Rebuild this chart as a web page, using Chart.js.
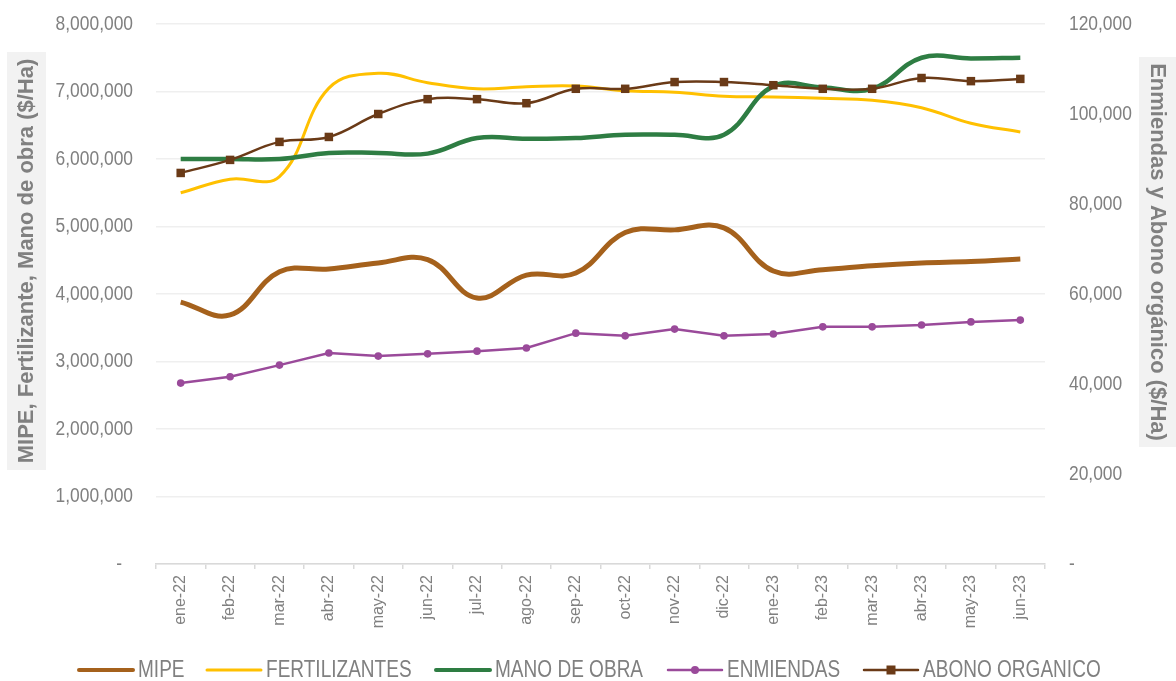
<!DOCTYPE html>
<html>
<head>
<meta charset="utf-8">
<script src="https://cdn.jsdelivr.net/npm/chart.js@4"></script>
<style>
  html, body { margin: 0; padding: 0; background: #fff; }
  canvas { display: block; }
</style>
</head>
<body>
<canvas id="costChart" width="1176" height="681"></canvas>
<script>
const months = ['ene-22','feb-22','mar-22','abr-22','may-22','jun-22','jul-22','ago-22','sep-22',
                'oct-22','nov-22','dic-22','ene-23','feb-23','mar-23','abr-23','may-23','jun-23'];

// left axis ($/Ha)
const mipe = [3880000, 3690000, 4330000, 4370000, 4460000, 4510000, 3940000, 4280000, 4310000,
              4910000, 4950000, 4980000, 4340000, 4360000, 4420000, 4460000, 4480000, 4520000];
const fertilizantes = [5500000, 5700000, 5740000, 7050000, 7270000, 7130000, 7040000, 7070000, 7080000,
                       7010000, 6990000, 6930000, 6920000, 6900000, 6870000, 6760000, 6530000, 6400000];
const manoDeObra = [6000000, 6000000, 6000000, 6090000, 6090000, 6080000, 6310000, 6300000, 6310000,
                    6360000, 6360000, 6360000, 7080000, 7060000, 7040000, 7500000, 7490000, 7500000];

// right axis ($/Ha)
const enmiendas = [40200, 41600, 44200, 46900, 46200, 46700, 47300, 48000, 51300,
                   50700, 52200, 50700, 51100, 52700, 52700, 53100, 53800, 54200];
const abonoOrganico = [86900, 89800, 93800, 94900, 100000, 103300, 103300, 102400, 105600,
                       105600, 107100, 107100, 106400, 105600, 105600, 108000, 107300, 107800];

const leftTicks = [0, 1000000, 2000000, 3000000, 4000000, 5000000, 6000000, 7000000, 8000000];
const rightTicks = [0, 20000, 40000, 60000, 80000, 100000, 120000];

const SANS = '"Liberation Sans", Arial, sans-serif';
const GREY = '#808080';

function fmt(v) {
    return v === 0 ? '-' : v.toLocaleString('en-US');
}

// condensed text: draw with a horizontal squeeze
function narrowText(ctx, text, x, y, sx, align) {
    ctx.save();
    ctx.translate(x, y);
    ctx.scale(sx, 1);
    ctx.textAlign = align;
    ctx.fillText(text, 0, 0);
    ctx.restore();
}

// value labels of both y axes, in a condensed face
const yTickLabels = {
    id: 'yTickLabels',
    afterDraw(chart) {
        const ctx = chart.ctx;
        const left = chart.scales.y, right = chart.scales.y1;
        ctx.save();
        ctx.fillStyle = GREY;
        ctx.font = '20px ' + SANS;
        ctx.textBaseline = 'middle';
        leftTicks.forEach(v => {
            const x = v === 0 ? left.right - 34 : left.right - 23;
            narrowText(ctx, fmt(v), x, left.getPixelForValue(v), 0.87, 'right');
        });
        rightTicks.forEach(v => {
            narrowText(ctx, fmt(v), right.left + 24, right.getPixelForValue(v), 0.87, 'left');
        });
        ctx.restore();
    }
};

// grey boxes with the rotated axis titles
const axisTitles = {
    id: 'axisTitles',
    afterDraw(chart) {
        const ctx = chart.ctx;
        ctx.save();
        ctx.fillStyle = '#F2F2F2';
        ctx.fillRect(7, 52, 39, 418);
        ctx.fillRect(1139, 57, 37, 390);
        ctx.fillStyle = GREY;
        ctx.font = 'bold 22px ' + SANS;
        ctx.textAlign = 'center';
        ctx.textBaseline = 'middle';
        ctx.translate(27, 261);
        ctx.rotate(-Math.PI / 2);
        ctx.fillText('MIPE, Fertilizante, Mano de obra ($/Ha)', 0, 0);
        ctx.restore();

        ctx.save();
        ctx.fillStyle = GREY;
        ctx.font = 'bold 22px ' + SANS;
        ctx.textAlign = 'center';
        ctx.textBaseline = 'middle';
        ctx.translate(1157, 252);
        ctx.rotate(Math.PI / 2);
        ctx.fillText('Enmiendas y Abono orgánico ($/Ha)', 0, 0);
        ctx.restore();
    }
};

// legend under the axis: line sample, optional marker, label
const legendStarts = [79, 207, 436, 668, 864];
const bottomLegend = {
    id: 'bottomLegend',
    afterDraw(chart) {
        const ctx = chart.ctx;
        const y = 670;
        const lineLen = 54;
        ctx.save();
        ctx.font = '23.5px ' + SANS;
        ctx.textBaseline = 'middle';
        chart.data.datasets.forEach((ds, i) => {
            const x = legendStarts[i];
            ctx.strokeStyle = ds.borderColor;
            ctx.lineWidth = Math.min(ds.borderWidth, 4);
            ctx.lineCap = 'round';
            ctx.beginPath();
            ctx.moveTo(x, y);
            ctx.lineTo(x + lineLen, y);
            ctx.stroke();
            ctx.fillStyle = ds.borderColor;
            if (ds.pointRadius > 0 && ds.pointStyle === 'circle') {
                ctx.beginPath();
                ctx.arc(x + lineLen / 2, y, 4, 0, Math.PI * 2);
                ctx.fill();
            } else if (ds.pointRadius > 0 && ds.pointStyle === 'rect') {
                ctx.fillRect(x + lineLen / 2 - 4.5, y - 4.5, 9, 9);
            }
            ctx.fillStyle = GREY;
            narrowText(ctx, ds.label, x + lineLen + 5, y + 1, 0.81, 'left');
        });
        ctx.restore();
    }
};

new Chart(document.getElementById('costChart').getContext('2d'), {
    type: 'line',
    data: {
        labels: months,
        datasets: [
            { label: 'MIPE', data: mipe, yAxisID: 'y', borderColor: '#A5611C', borderWidth: 5,
              tension: 0.4, pointRadius: 0, order: 5 },
            { label: 'FERTILIZANTES', data: fertilizantes, yAxisID: 'y', borderColor: '#FFC000', borderWidth: 3,
              tension: 0.4, pointRadius: 0, order: 4 },
            { label: 'MANO DE OBRA', data: manoDeObra, yAxisID: 'y', borderColor: '#2E7D43', borderWidth: 4.5,
              tension: 0.4, pointRadius: 0, order: 3 },
            { label: 'ENMIENDAS', data: enmiendas, yAxisID: 'y1', borderColor: '#9A4A9A', borderWidth: 2.5,
              tension: 0, pointStyle: 'circle', pointRadius: 3.8, pointBackgroundColor: '#9A4A9A',
              pointBorderWidth: 0, order: 2 },
            { label: 'ABONO ORGANICO', data: abonoOrganico, yAxisID: 'y1', borderColor: '#6A3A17', borderWidth: 2.5,
              tension: 0.4, pointStyle: 'rect', pointRadius: 6, pointBackgroundColor: '#6A3A17',
              pointBorderWidth: 0, order: 1 }
        ]
    },
    options: {
        responsive: false,
        animation: false,
        devicePixelRatio: 1,
        layout: { padding: { top: 24, left: 0, right: 0, bottom: 0 } },
        plugins: {
            legend: { display: false },
            tooltip: { enabled: false }
        },
        scales: {
            x: {
                offset: true,
                grid: { offset: true, drawOnChartArea: false, tickLength: 5, color: '#D9D9D9', lineWidth: 1.5 },
                border: { color: '#D9D9D9', width: 1.5 },
                ticks: {
                    color: GREY, padding: 6, maxRotation: 90, minRotation: 90, autoSkip: false,
                    font: { family: SANS, size: 16 }
                },
                afterFit: function (s) { s.height = 117; }
            },
            y: {
                position: 'left',
                min: 0, max: 8000000,
                afterBuildTicks: function (s) { s.ticks = leftTicks.map(v => ({ value: v })); },
                grid: { color: '#EFEFEF', lineWidth: 1.5, drawTicks: false },
                border: { display: false },
                ticks: { display: false },
                afterFit: function (s) { s.width = 156; }
            },
            y1: {
                position: 'right',
                min: 0, max: 120000,
                afterBuildTicks: function (s) { s.ticks = rightTicks.map(v => ({ value: v })); },
                grid: { drawOnChartArea: false, drawTicks: false },
                border: { display: false },
                ticks: { display: false },
                afterFit: function (s) { s.width = 131; }
            }
        }
    },
    plugins: [yTickLabels, axisTitles, bottomLegend]
});
</script>
</body>
</html>
